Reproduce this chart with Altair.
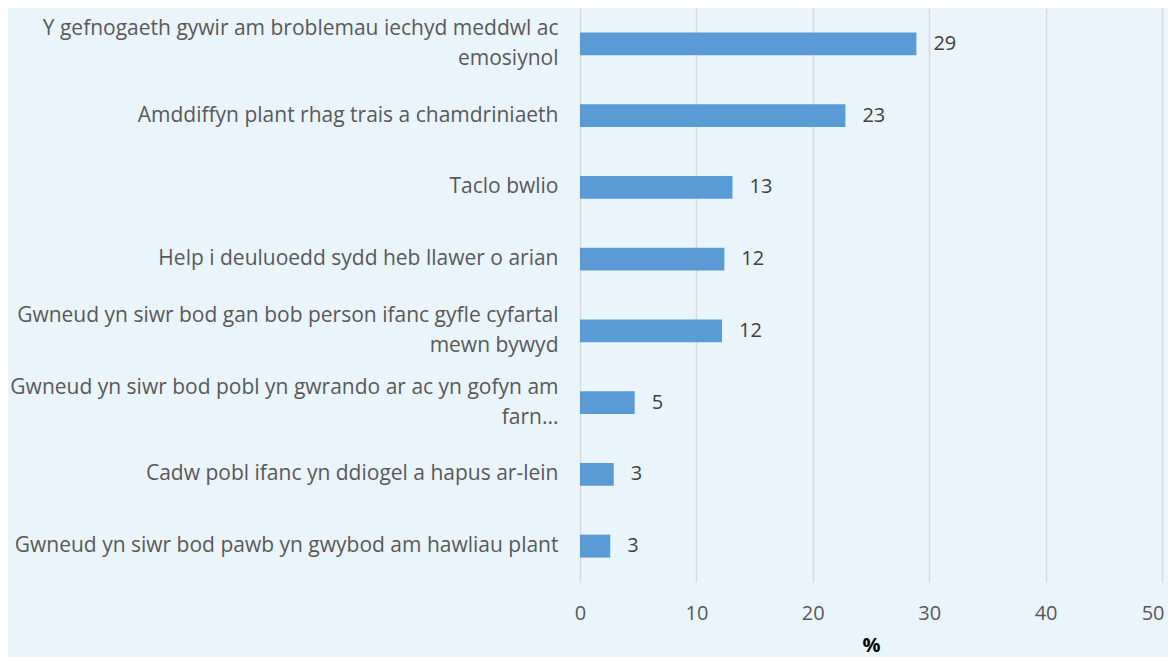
import altair as alt
import pandas as pd

categories = [
    "Y gefnogaeth gywir am broblemau iechyd meddwl ac|emosiynol",
    "Amddiffyn plant rhag trais a chamdriniaeth",
    "Taclo bwlio",
    "Help i deuluoedd sydd heb llawer o arian",
    "Gwneud yn siwr bod gan bob person ifanc gyfle cyfartal|mewn bywyd",
    "Gwneud yn siwr bod pobl yn gwrando ar ac yn gofyn am|farn...",
    "Cadw pobl ifanc yn ddiogel a hapus ar-lein",
    "Gwneud yn siwr bod pawb yn gwybod am hawliau plant",
]
values = [28.9, 22.8, 13.1, 12.4, 12.2, 4.7, 2.9, 2.6]
x_ticks = [0, 10, 20, 30, 40, 50]

df = pd.DataFrame({"cat": categories, "val": values})

FONT = "Open Sans"
BG = "#EAF4FB"

y_enc = alt.Y(
    "cat:N",
    sort=categories,
    title=None,
    scale=alt.Scale(paddingInner=0.68, paddingOuter=0.34),
    axis=alt.Axis(
        labelExpr="split(datum.label, '|')",
        labelLimit=600,
        labelFontSize=21,
        labelFont=FONT,
        labelColor="#595959",
        labelPadding=22,
        labelLineHeight=30,
        labelOffset={
            "condition": {"test": "indexof(datum.value, '|') >= 0", "value": -15},
            "value": 0,
        },
        ticks=False,
        domain=False,
        grid=False,
    ),
)

x_enc = alt.X(
    "val:Q",
    title="%",
    scale=alt.Scale(domain=[0, 50], nice=False),
    axis=alt.Axis(
        values=x_ticks,
        labelFontSize=20,
        labelFont=FONT,
        labelColor="#595959",
        labelPadding=21,
        labelFlush=False,
        labelAlign={
            "condition": {"test": "datum.value >= 50", "value": "right"},
            "value": "center",
        },
        labelOffset={
            "condition": {"test": "datum.value >= 50", "value": 2},
            "value": 0,
        },
        ticks=False,
        domain=False,
        grid=True,
        gridColor="#D9D9D9",
        gridWidth=1.5,
        titleFontSize=20,
        titleFont=FONT,
        titleFontWeight="bold",
        titleColor="#000000",
        titlePadding=12,
    ),
)

bars = alt.Chart(df).mark_bar(color="#5B9BD5").encode(x=x_enc, y=y_enc)
texts = alt.Chart(df).mark_text(
    align="left", dx=17, fontSize=20, font=FONT, color="#404040"
).encode(
    x=alt.X("val:Q"),
    y=alt.Y("cat:N", sort=categories),
    text=alt.Text("val:Q", format=".0f"),
)

chart = (
    (bars + texts)
    .properties(
        width=582,
        height=574,
        background=BG,
        autosize=alt.AutoSizeParams(type="none"),
        padding={"left": 572, "top": 0, "right": 6, "bottom": 75},
    )
    .configure_view(stroke=None, fill=BG)
)

chart.save("out.html", embed_options={"renderer": "svg", "actions": False})
